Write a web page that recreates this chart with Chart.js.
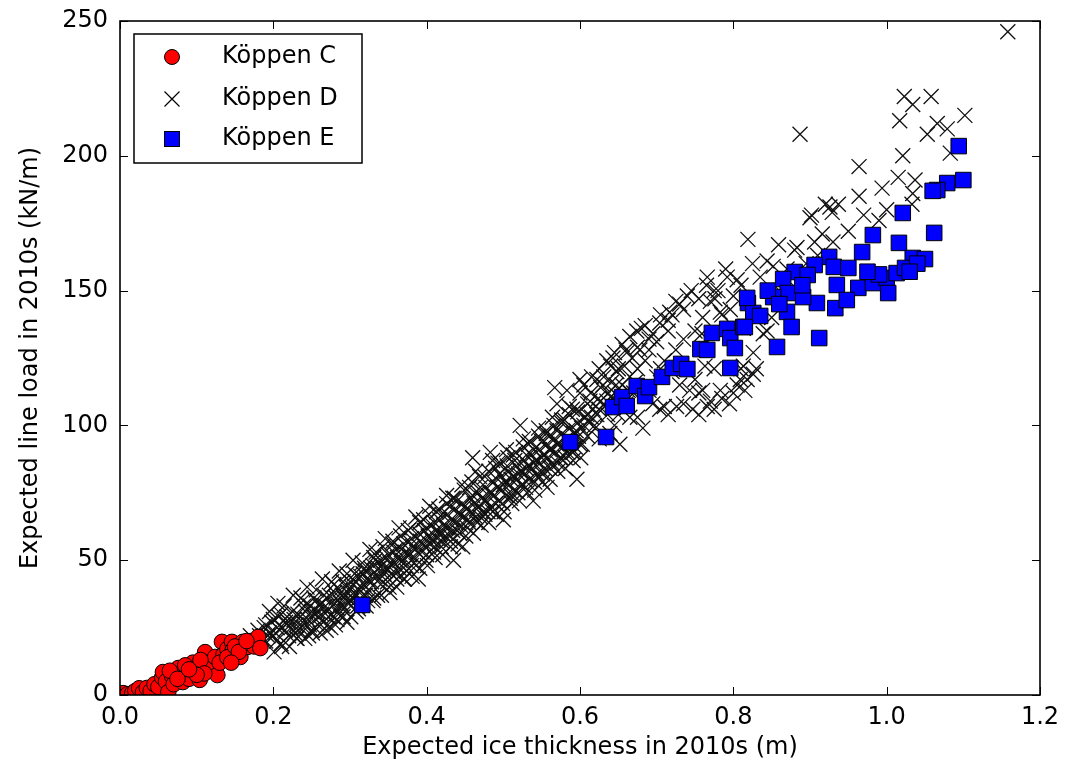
<!DOCTYPE html>
<html>
<head>
<meta charset="utf-8">
<script src="https://cdn.jsdelivr.net/npm/chart.js@4"></script>
<style>
  body { margin: 0; background: #fff; }
  #wrap { width: 1070px; height: 780px; }
</style>
</head>
<body>
<div id="wrap"><canvas id="myChart" width="1070" height="780"></canvas></div>
<script>
// tick labels
const xTicks = [0, 0.2, 0.4, 0.6, 0.8, 1.0, 1.2];
const yTicks = [0, 50, 100, 150, 200, 250];

// series names
const seriesNames = ['Köppen C', 'Köppen D', 'Köppen E'];

// Köppen C (red circles) [thickness m, load kN/m]
const koppenC = [
  [0.004,0.7],[0.01,0.3],[0.016,0.7],[0.02,1.5],[0.025,2.5],[0.03,1.0],[0.035,2.6],[0.04,1.5],
  [0.045,4.0],[0.05,3.0],[0.055,6.5],[0.056,8.5],[0.06,5.0],[0.063,1.1],[0.068,7.0],[0.07,4.0],
  [0.076,10.0],[0.08,7.5],[0.082,4.8],[0.087,8.5],[0.09,6.0],[0.095,12.0],[0.1,10.0],[0.104,5.6],
  [0.111,15.9],[0.113,11.9],[0.115,9.0],[0.12,12.0],[0.124,14.1],[0.127,7.4],[0.133,19.7],[0.135,15.0],
  [0.14,17.0],[0.146,19.7],[0.147,16.7],[0.157,14.1],[0.16,19.7],[0.166,17.8],[0.17,20.0],[0.175,18.0],
  [0.18,21.5],[0.183,17.4],[0.065,9.0],[0.075,6.0],[0.085,11.0],[0.105,13.0],[0.11,8.0],[0.13,12.0],
  [0.14,14.0],[0.15,18.0],[0.155,16.0],[0.165,20.0],[0.1,7.5],[0.09,9.5],[0.145,12.0]
];

// Köppen D (crosses)
const koppenD = [
  [0.17,22],[0.175,19],[0.18,24],[0.185,21],[0.19,26],[0.19,20],[0.195,23],[0.2,28],[0.2,22],[0.205,25],
  [0.21,19],[0.21,30],[0.215,24],[0.22,27],[0.22,22],[0.225,31],[0.23,26],[0.23,21],[0.235,29],[0.24,33],
  [0.24,25],[0.245,28],[0.25,31],[0.25,24],[0.255,35],[0.26,29],[0.26,33],[0.265,27],[0.27,36],[0.27,31],
  [0.275,25],[0.28,34],[0.28,38],[0.285,30],[0.29,37],[0.29,33],[0.295,40],[0.3,35],[0.3,42],[0.305,38],
  [0.31,33],[0.31,44],[0.315,40],[0.32,37],[0.32,46],[0.325,42],[0.33,35],[0.33,48],[0.335,44],[0.34,41],
  [0.34,50],[0.345,46],[0.352,38],[0.35,52],[0.355,48],[0.36,45],[0.36,54],[0.365,50],[0.37,43],[0.37,56],
  [0.375,52],[0.38,48],[0.38,58],[0.385,54],[0.389,43],[0.39,60],[0.395,56],[0.4,52],[0.4,62],[0.405,58],
  [0.41,55],[0.41,64],[0.415,60],[0.42,57],[0.42,67],[0.425,62],[0.43,59],[0.43,70],[0.435,50],[0.44,61],
  [0.44,72],[0.445,67],[0.447,55],[0.45,70],[0.455,64],[0.46,74],[0.46,88],[0.465,69],[0.47,66],[0.47,77],
  [0.475,72],[0.48,68],[0.483,90],[0.485,75],[0.49,84],[0.49,71],[0.495,82],[0.5,78],[0.5,65],[0.505,85],
  [0.51,80],[0.51,74],[0.515,87],[0.52,82],[0.522,100],[0.525,78],[0.53,89],[0.53,84],[0.539,72],[0.54,91],
  [0.54,86],[0.545,81],[0.55,94],[0.55,88],[0.557,77],[0.56,96],[0.56,91],[0.565,85],[0.57,98],[0.57,93],
  [0.575,88],[0.58,102],[0.596,80],[0.585,95],[0.59,106],[0.59,90],[0.595,98],[0.6,112],[0.6,93],[0.605,100],
  [0.61,108],[0.61,96],[0.615,103],[0.622,117],[0.62,99],[0.625,106],[0.63,115],[0.639,97],[0.635,109],[0.64,122],
  [0.652,93],[0.645,112],[0.65,121],[0.65,104],[0.655,115],[0.661,127],[0.66,108],[0.665,118],[0.674,135],[0.67,112],
  [0.675,121],[0.68,136],[0.682,99],[0.685,124],[0.69,113],[0.69,128],[0.704,106],[0.704,138],[0.7,131],[0.7,118],
  [0.717,142],[0.71,107],[0.71,124],[0.715,135],[0.726,107],[0.72,141],[0.725,128],[0.747,106],[0.73,145],[0.735,132],
  [0.743,113],[0.74,148],[0.766,107],[0.75,135],[0.766,155],[0.755,112],[0.776,147],[0.76,140],[0.77,109],[0.77,146],
  [0.783,113],[0.775,121],[0.792,155],[0.78,150],[0.785,141],[0.805,154],[0.8,112],[0.796,143],[0.81,121],[0.809,117],
  [0.813,122],[0.819,169],[0.818,117],[0.826,127],[0.839,134],[0.844,135],[0.826,119],[0.844,161],[0.852,159],[0.859,167],
  [0.88,165],[0.883,166],[0.9,177],[0.902,178],[0.906,168],[0.916,171],[0.92,182],[0.926,181],[0.929,179],[0.937,182],
  [0.964,185],[0.964,196],[0.994,188],[1.0,180],[1.015,192],[1.017,213],[1.021,200],[1.023,222],[1.033,182],[1.034,219],
  [1.034,186],[1.037,191],[1.053,208],[1.058,222],[1.066,212],[1.079,210],[1.083,201],[1.102,215],[1.158,246],[0.887,208],
  [0.783,142],[0.759,134],[0.763,122],[0.705,121],[0.813,136],[0.72,120],[0.73,115],[0.69,132],[0.66,128],[0.643,125],
  [0.182,22],[0.188,25],[0.193,22],[0.198,27],[0.203,23],[0.207,29],[0.212,25],[0.218,29],[0.223,25],[0.227,28],
  [0.232,30],[0.233,24],[0.238,27],[0.242,31],[0.247,26],[0.248,33],[0.252,29],[0.257,31],[0.258,26],[0.262,34],
  [0.263,30],[0.268,33],[0.272,29],[0.273,37],[0.277,33],[0.278,29],[0.282,36],[0.284,32],[0.287,39],[0.288,34],
  [0.292,36],[0.294,31],[0.297,38],[0.299,34],[0.302,40],[0.303,36],[0.307,42],[0.309,37],[0.312,39],[0.314,44],
  [0.317,45],[0.318,41],[0.322,43],[0.324,39],[0.327,47],[0.328,42],[0.332,44],[0.333,50],[0.337,47],[0.339,43],
  [0.342,48],[0.344,45],[0.347,51],[0.348,47],[0.352,49],[0.354,45],[0.357,53],[0.358,49],[0.362,51],[0.364,47],
  [0.367,54],[0.369,50],[0.372,53],[0.373,48],[0.377,57],[0.378,52],[0.382,55],[0.384,51],[0.387,58],[0.388,53],
  [0.392,57],[0.394,53],[0.397,61],[0.398,55],[0.402,59],[0.404,56],[0.407,63],[0.408,57],[0.412,61],[0.414,58],
  [0.417,65],[0.418,60],[0.422,63],[0.424,59],[0.427,67],[0.428,62],[0.432,65],[0.434,61],[0.437,69],[0.438,64],
  [0.442,67],[0.444,63],[0.447,71],[0.448,66],[0.452,69],[0.454,65],[0.457,73],[0.458,68],[0.462,71],[0.464,66],
  [0.467,75],[0.468,70],[0.472,73],[0.474,68],[0.477,77],[0.478,72],[0.482,75],[0.484,70],[0.487,79],[0.488,74],
  [0.492,77],[0.494,72],[0.497,81],[0.498,76],[0.502,79],[0.504,74],[0.507,83],[0.508,78],[0.512,81],[0.514,76],
  [0.517,85],[0.518,80],[0.522,83],[0.524,78],[0.527,87],[0.528,82],[0.532,85],[0.534,80],[0.537,89],[0.538,84],
  [0.542,87],[0.544,82],[0.547,91],[0.548,86],[0.552,89],[0.554,84],[0.557,93],[0.558,88],[0.562,91],[0.564,86],
  [0.567,95],[0.568,90],[0.572,93],[0.574,88],[0.577,97],[0.578,92],[0.582,95],[0.584,90],[0.587,99],[0.588,94],
  [0.592,97],[0.594,92],[0.597,101],[0.598,96],[0.602,99],[0.607,103],[0.612,101],[0.617,106],[0.622,104],[0.627,109],
  [0.632,107],[0.637,112],[0.642,110],[0.647,115],[0.567,114],[0.583,113],[0.613,109],[0.627,114],[0.6,117],[0.57,108],
  // wider spread of the main band, upper side
  [0.195,31],[0.206,34],[0.214,33],[0.226,37],[0.236,36],[0.244,40],[0.256,39],[0.264,43],[0.276,42],[0.286,46],
  [0.296,45],[0.304,50],[0.316,49],[0.326,54],[0.334,53],[0.346,58],[0.356,57],[0.364,62],[0.376,61],[0.386,66],
  [0.396,65],[0.404,70],[0.416,69],[0.426,74],[0.434,73],[0.446,78],[0.456,77],[0.464,83],[0.476,81],[0.486,87],
  [0.496,86],[0.504,91],[0.516,90],[0.526,95],[0.534,94],[0.546,99],[0.556,98],[0.564,103],[0.576,102],[0.586,107],
  [0.596,106],
  // wider spread of the main band, lower side
  [0.201,16],[0.211,18],[0.221,18],[0.231,21],[0.241,21],[0.251,23],[0.261,23],[0.271,26],[0.281,26],[0.291,29],
  [0.301,29],[0.311,32],[0.321,33],[0.331,36],[0.341,37],[0.351,40],[0.361,40],[0.371,43],[0.381,44],[0.391,47],
  [0.401,48],[0.411,51],[0.421,52],[0.431,55],[0.441,56],[0.451,59],[0.461,60],[0.471,63],[0.481,64],[0.491,67],
  [0.501,68],[0.511,71],[0.521,72],[0.531,75],[0.541,76],[0.551,79],[0.561,80],[0.571,83],[0.581,84],[0.591,87],
  [0.601,88],
  // further fill of the dense middle
  [0.204,20],[0.216,27],[0.228,23],[0.239,35],[0.246,22],[0.253,36],[0.266,37],[0.269,24],[0.279,41],[0.283,28],
  [0.291,42],[0.296,27],[0.306,45],[0.308,31],[0.319,47],[0.323,35],[0.331,51],[0.336,37],[0.343,55],[0.349,42],
  [0.356,56],[0.361,43],[0.366,59],[0.374,46],[0.379,62],[0.386,48],[0.391,64],[0.399,50],[0.403,67],[0.409,53],
  [0.413,68],[0.419,55],[0.426,71],[0.431,57],[0.436,73],[0.443,60],[0.449,76],[0.453,62],[0.459,79],[0.466,64],
  [0.469,81],[0.476,67],[0.481,83],[0.486,68],[0.493,86],[0.499,71],[0.506,88],[0.509,73],[0.513,89],[0.519,75],
  [0.526,92],[0.529,77],[0.533,93],[0.541,79],[0.546,96],[0.551,82],[0.556,97],[0.561,84],[0.566,100],[0.571,86],
  [0.576,101],[0.581,88],[0.586,104],[0.591,90],[0.597,105],[0.603,93],[0.609,104],[0.614,112],[0.619,100],[0.624,110],
  [0.631,118],[0.636,104],[0.641,116],[0.648,120],[0.653,110],[0.658,122],[0.663,113],[0.668,125],[0.672,116],[0.678,128],
  // upper part of the band between 0.6 and 0.84
  [0.605,115],[0.615,118],[0.625,121],[0.635,124],[0.645,127],[0.655,130],[0.665,133],[0.675,129],[0.685,137],[0.695,134],
  [0.705,141],[0.715,139],[0.725,146],[0.735,143],[0.745,150],[0.755,147],[0.765,152],[0.775,150],[0.79,158],[0.8,148],
  [0.81,152],[0.825,160],[0.835,155],
  // lower branch between 0.62 and 0.83
  [0.625,95],[0.645,100],[0.665,103],[0.675,103],[0.695,108],[0.715,104],[0.735,108],[0.755,104],[0.775,106],[0.785,110],
  [0.795,108],[0.805,115],[0.815,113],[0.83,121],[0.75,117],[0.76,113],
  // behind the squares
  [0.85,140],[0.86,150],[0.87,158],[0.885,150],[0.895,160],[0.91,163],[0.93,168],[0.95,172],[0.97,178],[0.99,176]
];

// Köppen E (blue squares)
const koppenE = [
  [0.316,33.4],[0.587,93.8],[0.634,95.7],[0.643,106.8],[0.655,110.5],[0.661,107.2],[0.674,114.6],[0.685,110.9],
  [0.69,114.2],[0.707,118.0],[0.721,121.3],[0.732,122.8],[0.74,120.9],[0.757,128.3],[0.766,128.0],[0.772,134.3],
  [0.792,135.8],[0.796,132.4],[0.802,128.7],[0.813,136.5],[0.796,121.3],[0.819,145.4],[0.826,141.7],[0.982,170.6],
  [1.016,167.7],[1.062,171.4],[0.968,164.3],[0.925,162.5],[0.906,159.5],[0.88,156.9],[0.865,154.3],[0.931,158.8],
  [0.95,158.4],[0.935,152.1],[0.963,151.0],[0.982,152.8],[1.0,154.7],[1.013,156.5],[1.034,162.1],[1.05,161.7],
  [1.024,158.4],[1.002,149.1],[0.933,143.5],[0.909,145.4],[0.891,147.6],[0.871,149.1],[0.852,147.6],[0.835,140.6],
  [0.818,147.3],[0.815,136.5],[0.87,142.1],[0.876,136.5],[0.912,132.4],[0.857,129.1],[0.897,155.8],[0.948,146.5],
  [1.094,203.6],[1.1,191.0],[1.079,189.9],[1.066,187.3],[1.06,187.0],[1.021,178.8],[1.04,160.0],[0.99,156.0],
  [0.845,150.0],[0.86,145.0],[0.89,152.0],[0.975,157.0],[1.03,157.0]
];

const FONT = '"DejaVu Sans", sans-serif';

function toPoints(arr) {
  return arr.map(p => ({ x: p[0], y: p[1] }));
}

// frame, inward ticks on all four sides and the legend box
const framePlugin = {
  id: 'frame',
  afterDraw(chart) {
    const ctx = chart.ctx;
    const a = chart.chartArea;
    const xs = chart.scales.x, ys = chart.scales.y;
    ctx.save();
    ctx.strokeStyle = '#000';
    ctx.lineWidth = 1;
    ctx.beginPath();
    xTicks.forEach(v => {
      const p = Math.round(xs.getPixelForValue(v)) + 0.5;
      ctx.moveTo(p, a.bottom); ctx.lineTo(p, a.bottom - 8);
      ctx.moveTo(p, a.top); ctx.lineTo(p, a.top + 8);
    });
    yTicks.forEach(v => {
      const p = Math.round(ys.getPixelForValue(v)) + 0.5;
      ctx.moveTo(a.left, p); ctx.lineTo(a.left + 8, p);
      ctx.moveTo(a.right, p); ctx.lineTo(a.right - 8, p);
    });
    ctx.stroke();
    ctx.lineWidth = 1.6;
    ctx.strokeRect(a.left, a.top, a.right - a.left, a.bottom - a.top);

    // legend
    const lx = 134, ly = 34, lw = 228, lh = 129;
    ctx.fillStyle = '#fff';
    ctx.fillRect(lx, ly, lw, lh);
    ctx.lineWidth = 1.5;
    ctx.strokeRect(lx, ly, lw, lh);
    const rows = [57, 99, 139];
    const mx = 172;
    // circle
    ctx.lineWidth = 1;
    ctx.beginPath();
    ctx.arc(mx, rows[0], 7.5, 0, Math.PI * 2);
    ctx.fillStyle = '#ff0000';
    ctx.fill();
    ctx.stroke();
    // cross
    ctx.lineWidth = 1.2;
    ctx.beginPath();
    ctx.moveTo(mx - 7.5, rows[1] - 7.5); ctx.lineTo(mx + 7.5, rows[1] + 7.5);
    ctx.moveTo(mx - 7.5, rows[1] + 7.5); ctx.lineTo(mx + 7.5, rows[1] - 7.5);
    ctx.stroke();
    // square
    ctx.lineWidth = 1;
    ctx.fillStyle = '#0000ff';
    ctx.fillRect(mx - 7.5, rows[2] - 7.5, 15, 15);
    ctx.strokeRect(mx - 7.5, rows[2] - 7.5, 15, 15);
    ctx.fillStyle = '#000';
    ctx.font = '24px ' + FONT;
    ctx.textBaseline = 'middle';
    ctx.textAlign = 'left';
    seriesNames.forEach((n, i) => ctx.fillText(n, 222, rows[i]));
    ctx.restore();
  }
};

const ctx = document.getElementById('myChart').getContext('2d');
const chart = new Chart(ctx, {
  type: 'scatter',
  data: {
    datasets: [{
      label: seriesNames[0],
      data: toPoints(koppenC),
      pointStyle: 'circle',
      pointRadius: 7.8,
      backgroundColor: '#ff0000',
      borderColor: '#000',
      borderWidth: 1,
      clip: 0,
      order: 1
    }, {
      label: seriesNames[1],
      data: toPoints(koppenD),
      pointStyle: 'crossRot',
      pointRadius: 10.6,
      backgroundColor: 'rgba(0,0,0,0)',
      borderColor: '#111',
      borderWidth: 1.3,
      clip: 0,
      order: 2
    }, {
      label: seriesNames[2],
      data: toPoints(koppenE),
      pointStyle: 'rect',
      pointRadius: 11,
      backgroundColor: '#0000ff',
      borderColor: '#000',
      borderWidth: 1,
      clip: 0,
      order: 0
    }]
  },
  options: {
    responsive: false,
    animation: false,
    events: [],
    layout: { padding: { left: 0, top: 21, right: 30, bottom: 0 } },
    plugins: {
      legend: { display: false },
      tooltip: { enabled: false }
    },
    scales: {
      x: {
        type: 'linear',
        min: 0,
        max: 1.2,
        afterBuildTicks: s => { s.ticks = xTicks.map(v => ({ value: v })); },
        afterFit: s => { s.height = 85; s.paddingLeft = 0; s.paddingRight = 0; },
        grid: { display: false, drawTicks: false },
        border: { display: false },
        ticks: {
          color: '#000',
          padding: 8,
          font: { family: FONT, size: 24 },
          callback: v => Number(v).toFixed(1)
        },
        title: {
          display: true,
          text: 'Expected ice thickness in 2010s (m)',
          color: '#000',
          font: { family: FONT, size: 24 },
          padding: { top: 4, bottom: 18 }
        }
      },
      y: {
        type: 'linear',
        min: 0,
        max: 250,
        afterBuildTicks: s => { s.ticks = yTicks.map(v => ({ value: v })); },
        afterFit: s => { s.width = 120; s.paddingTop = 0; s.paddingBottom = 0; },
        grid: { display: false, drawTicks: false },
        border: { display: false },
        ticks: {
          color: '#000',
          padding: 12,
          font: { family: FONT, size: 24 }
        },
        title: {
          display: true,
          text: 'Expected line load in 2010s (kN/m)',
          color: '#000',
          font: { family: FONT, size: 24 },
          padding: { top: 16, bottom: 0 }
        }
      }
    }
  },
  plugins: [framePlugin]
});
</script>
</body>
</html>
